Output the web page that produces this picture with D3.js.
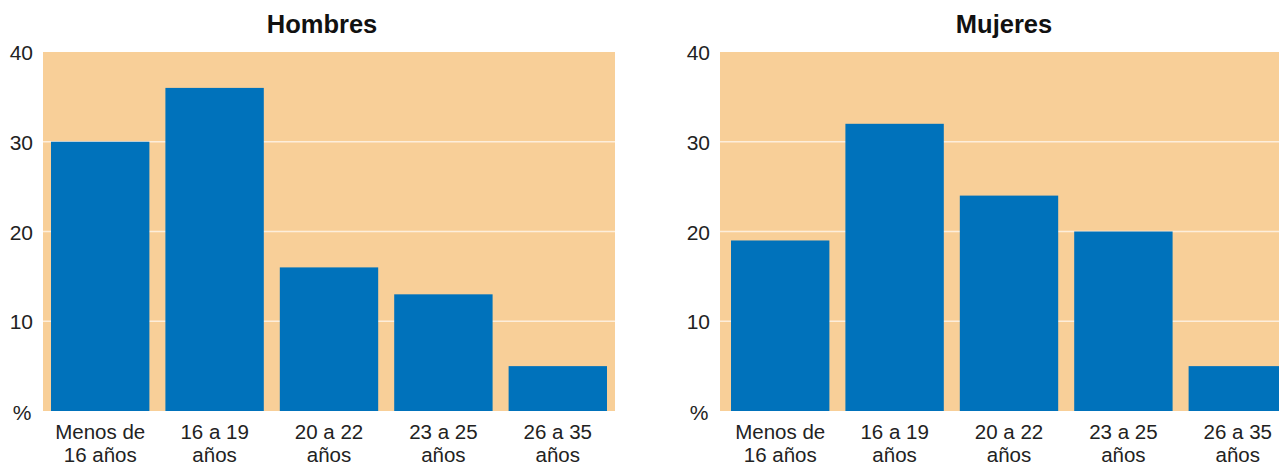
<!DOCTYPE html>
<html><head><meta charset="utf-8">
<script src="https://cdn.jsdelivr.net/npm/d3@7"></script>
<style>body{margin:0;background:#fff}svg{display:block}</style>
</head><body>
<svg id="c" width="1279" height="466"></svg>
<script>
const categories = [["Menos de","16 años"],["16 a 19","años"],["20 a 22","años"],["23 a 25","años"],["26 a 35","años"]];
const hombres = [30, 36, 16, 13, 5];
const mujeres = [19, 32, 24, 20, 5];
const yTicks = [10, 20, 30, 40];
const titles = ["Hombres", "Mujeres"];

const svg = d3.select("#c");
const font = "'Liberation Sans', Arial, sans-serif";
const y = d3.scaleLinear().domain([0, 40]).range([411, 52]);

const panels = [
  {title: titles[0], data: hombres, bg: [43, 615], range: [43, 615], tickX: 33, pctX: 22, titleX: 322},
  {title: titles[1], data: mujeres, bg: [720, 1295], range: [723, 1295], tickX: 710, pctX: 699, titleX: 1004}
];

panels.forEach(p => {
  const keys = categories.map(c => c.join(" "));
  const x = d3.scaleBand().domain(keys).range(p.range).paddingInner(0.14).paddingOuter(0.07);
  const g = svg.append("g");
  g.append("rect").attr("x", p.bg[0]).attr("y", y(40)).attr("width", p.bg[1]-p.bg[0]).attr("height", y(0)-y(40)).attr("fill", "#F8CF98");
  g.selectAll("line.grid").data([10,20,30]).enter().append("line")
    .attr("x1", p.bg[0]).attr("x2", p.bg[1]).attr("y1", d => y(d)).attr("y2", d => y(d))
    .attr("stroke", "#FDEEDB").attr("stroke-width", 1.5);
  g.selectAll("rect.bar").data(p.data).enter().append("rect")
    .attr("x", (d,i) => x(keys[i])).attr("width", x.bandwidth())
    .attr("y", d => y(d)).attr("height", d => y(0) - y(d)).attr("fill", "#0072BB");
  // y axis labels
  const ya = d3.axisLeft(y).tickValues(yTicks).tickSize(0).tickPadding(0);
  const yg = g.append("g").attr("transform", `translate(${p.tickX},0)`).call(ya);
  yg.select(".domain").remove();
  yg.selectAll("text").attr("font-family", font).attr("font-size", 21).attr("fill", "#222").attr("dy", "0.36em");
  g.append("text").attr("x", p.pctX).attr("y", 412).attr("dy", "0.36em").attr("text-anchor", "middle")
    .attr("font-family", font).attr("font-size", 21).attr("fill", "#222").text("%");
  // x labels
  const xa = d3.axisBottom(x).tickSize(0);
  const xg = g.append("g").attr("transform", `translate(0,${y(0)})`).call(xa);
  xg.select(".domain").remove();
  xg.selectAll(".tick text").remove();
  xg.selectAll(".tick").each(function(d, i) {
    const t = d3.select(this);
    categories[i].forEach((line, j) => t.append("text").attr("font-family", font).attr("font-size", 20.5)
      .attr("fill", "#222").attr("text-anchor", "middle").attr("x", 0).attr("y", 28 + j*23).text(line));
  });
  g.append("text").attr("x", p.titleX).attr("y", 33).attr("text-anchor", "middle")
    .attr("font-family", font).attr("font-size", 25.5).attr("font-weight", "bold").attr("fill", "#111").text(p.title);
});
</script>
</body></html>
